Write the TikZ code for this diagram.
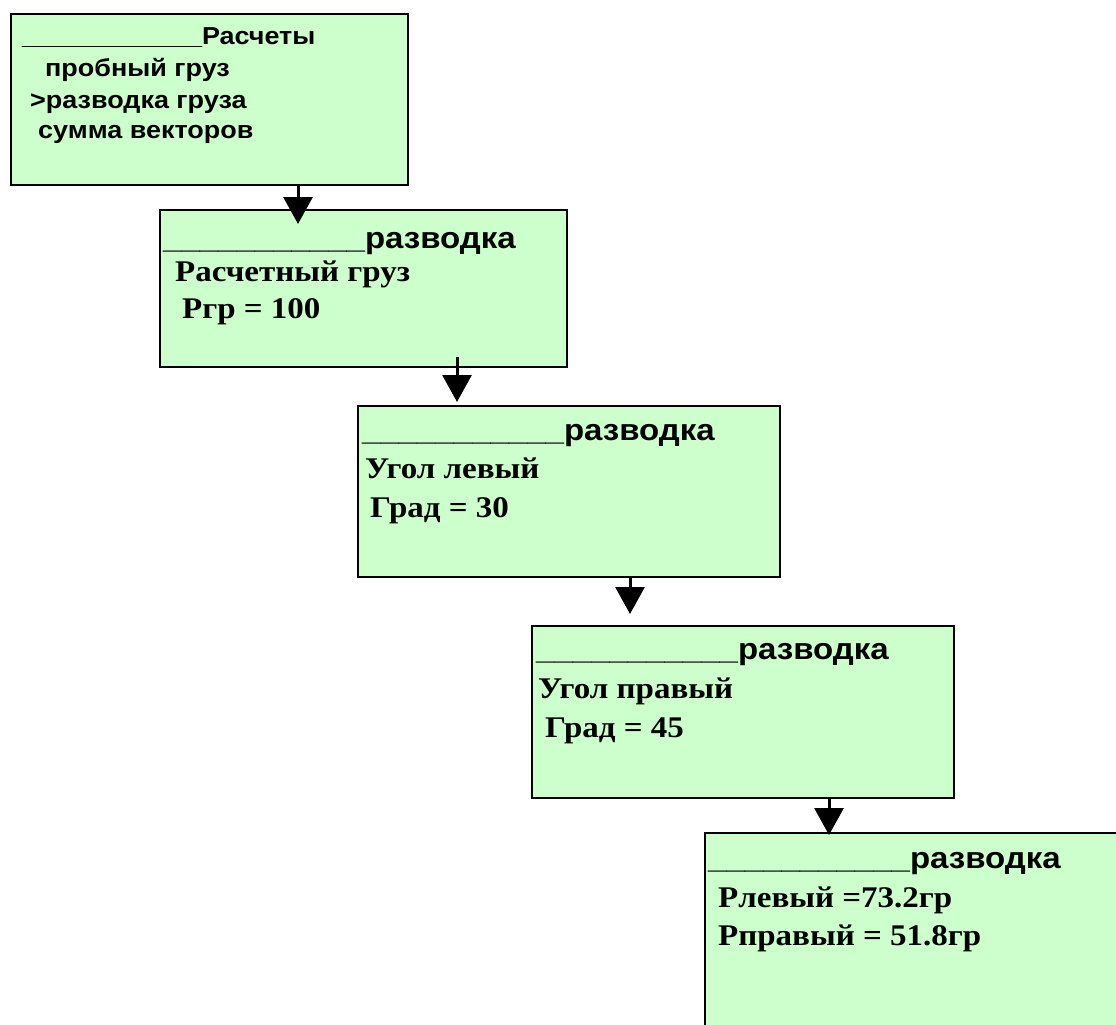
\documentclass[tikz,border=0pt]{standalone}
\usepackage{fontspec}
\newfontfamily\hdfont[FakeStretch=1.1]{Liberation Sans}
\newfontfamily\bdfont[FakeStretch=1.1]{Liberation Serif}
\usetikzlibrary{arrows.meta}
\definecolor{lcdgreen}{HTML}{CCFFCC}
\tikzset{
  lcd/.style={draw, line width=2pt, fill=lcdgreen, inner sep=0pt, anchor=north west},
  menutxt/.style={anchor=base west, inner sep=0pt, font=\hdfont\bfseries\fontsize{24.5}{29}\selectfont},
  headtxt/.style={anchor=base west, inner sep=0pt, font=\hdfont\bfseries\fontsize{30}{36}\selectfont},
  bodytxt/.style={anchor=base west, inner sep=0pt, font=\bdfont\bfseries\fontsize{30}{36}\selectfont},
  pointer/.style={line width=3pt, -{Triangle[width=29pt,length=27pt]}}
}
\newcommand{\dashline}{\_\_\_\_\_\_\_\_\_\_\_}

\begin{document}
\begin{tikzpicture}[x=1pt,y=-1pt]
\clip (0,0) rectangle (1116,1025);
\fill[white] (0,0) rectangle (1116,1025);

\node[lcd, minimum width=397pt, minimum height=171pt] (calc) at (10,13) {};
\node[menutxt] (calc0) at ([shift={(12,32)}]calc.north west) {\_\dashline Расчеты};
\node[menutxt] (calc1) at ([shift={(35,64)}]calc.north west) {пробный груз};
\node[menutxt] (calc2) at ([shift={(20,95)}]calc.north west) {>разводка груза};
\node[menutxt] (calc3) at ([shift={(28,125)}]calc.north west) {сумма векторов};

\node[lcd, minimum width=407pt, minimum height=157pt] (load) at (159,209) {};
\node[headtxt] (load0) at ([shift={(4,39)}]load.north west) {\dashline разводка};
\node[bodytxt] (load1) at ([shift={(16,72)}]load.north west) {Расчетный груз};
\node[bodytxt] (load2) at ([shift={(23,109)}]load.north west) {Ргр = 100};

\node[lcd, minimum width=422pt, minimum height=171pt] (left) at (357,405) {};
\node[headtxt] (left0) at ([shift={(5,35)}]left.north west) {\dashline разводка};
\node[bodytxt] (left1) at ([shift={(8,73)}]left.north west) {Угол левый};
\node[bodytxt] (left2) at ([shift={(13,112)}]left.north west) {Град = 30};

\node[lcd, minimum width=422pt, minimum height=172pt] (right) at (531,625) {};
\node[headtxt] (right0) at ([shift={(5,34)}]right.north west) {\dashline разводка};
\node[bodytxt] (right1) at ([shift={(7,73)}]right.north west) {Угол правый};
\node[bodytxt] (right2) at ([shift={(14,112)}]right.north west) {Град = 45};

\node[lcd, minimum width=421pt, minimum height=203pt] (res) at (704,832) {};
\node[headtxt] (res0) at ([shift={(4,36)}]res.north west) {\dashline разводка};
\node[bodytxt] (res1) at ([shift={(14,75)}]res.north west) {Рлевый =73.2гр};
\node[bodytxt] (res2) at ([shift={(14,113)}]res.north west) {Рправый = 51.8гр};

\coordinate (tip1) at ([shift={(139,15)}]load.north west);
\coordinate (tip2) at ([shift={(100,-3)}]left.north west);
\coordinate (tip3) at ([shift={(99,-11)}]right.north west);
\coordinate (tip4) at ([shift={(125,3)}]res.north west);
\draw[pointer] (calc.south -| tip1) -- (tip1);
\draw[pointer] ([yshift=11]load.south -| tip2) -- (tip2);
\draw[pointer] (left.south -| tip3) -- (tip3);
\draw[pointer] (right.south -| tip4) -- (tip4);
\end{tikzpicture}
\end{document}
